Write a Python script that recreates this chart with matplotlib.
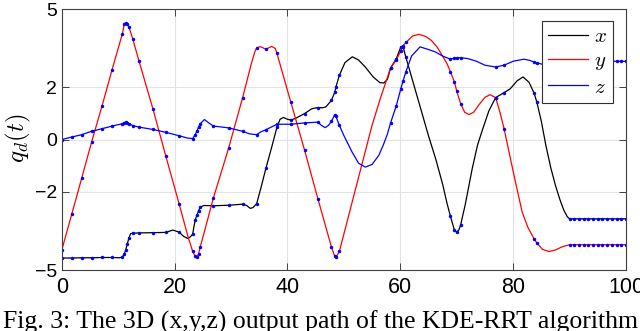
import numpy as np
import matplotlib
matplotlib.use('Agg')
import matplotlib.pyplot as plt

# waypoints (blue markers), shared times
t_way = [0, 1.77, 3.55, 5.3, 7.15, 8.93, 10.76, 11.1, 11.35, 11.6, 11.9, 12.6, 13.7,
         16.15, 18.45, 20.8, 23.2, 23.65, 23.95, 24.25, 24.55, 26.9, 29.6, 32.05,
         34.55, 36.2, 38.15, 40.6, 43.05, 45.4, 47.8, 48.4, 48.6, 49.2, 58.3, 59.3,
         60.1, 60.5, 61.0, 68.9, 69.6, 70.0, 70.7, 76.9, 78.4, 83.7, 84.2,
         90.0, 90.83, 91.67, 92.5, 93.33, 94.17, 95.0, 95.83, 96.67, 97.5, 98.33, 99.17, 100.0]
x_way = [-4.53, -4.53, -4.52, -4.52, -4.51, -4.51, -4.49, -4.37, -4.22, -4.0, -3.78, -3.58, -3.57,
         -3.56, -3.55, -3.54, -3.62, -3.08, -2.9, -2.72, -2.58, -2.53, -2.51, -2.47,
         -2.45, -1.09, 0.48, 0.75, 1.0, 1.23, 1.5, 1.82, 2.02, 2.46, 2.75, 3.1,
         3.55, 3.55, 3.15, -2.94, -3.47, -3.54, -3.26, 1.61, 1.8, 1.79, 1.44] + [-3.03] * 13
y_way = [-4.24, -2.86, -1.47, -0.09, 1.29, 2.68, 4.06, 4.44, 4.47, 4.42, 4.32, 3.85, 3.01,
         1.19, -0.63, -2.45, -4.27, -4.46, -4.5, -4.37, -4.11, -2.22, -0.31, 1.6,
         3.51, 3.46, 3.3, 1.44, -0.41, -2.26, -4.11, -4.47, -4.51, -4.28, 2.75, 3.05,
         3.4, 3.6, 3.72, 2.59, 2.21, 1.86, 1.38, 1.61, 0.42, -3.79, -3.95] + [-4.02] * 13
z_way = [0.0, 0.1, 0.19, 0.32, 0.42, 0.52, 0.61, 0.65, 0.67, 0.64, 0.61, 0.54, 0.48,
         0.39, 0.28, 0.15, 0.04, 0.19, 0.32, 0.48, 0.61, 0.52, 0.45, 0.32,
         0.19, 0.38, 0.59, 0.59, 0.64, 0.67, 0.7, 0.96, 0.89, 0.55, 0.65, 1.3,
         1.95, 2.25, 2.6, 3.08, 3.12, 3.13, 3.14, 2.78, 2.85, 2.97, 2.94] + [3.0] * 13

# traced curves
x_t = [0, 1.77, 3.55, 5.3, 7.15, 8.93, 10.3, 10.76, 11.1, 11.35, 11.6, 11.9, 12.2, 12.6, 13.7,
       16.15, 18.45, 19.7, 20.8, 21.6, 22.3, 22.8, 23.2, 23.65, 23.95, 24.25, 24.55, 25.2,
       26.9, 29.6, 32.05, 32.8, 33.4, 33.9, 34.55, 35.3, 36.2, 37.3, 38.15, 38.7, 39.3,
       40.0, 40.6, 41.5, 43.05, 44.3, 45.4, 46.2, 46.8, 47.8, 48.4, 48.6, 49.2, 50.2,
       51.5, 52.6, 53.8, 55.2, 56.4, 57.1, 57.7, 58.3, 59.3, 60.1, 60.5, 61.0, 62.0,
       63.0, 64.0, 65.0, 66.3, 67.5, 68.3, 68.9, 69.6, 70.0, 70.4, 70.7, 71.5, 72.75,
       73.7, 74.6, 75.7, 76.9, 78.4, 79.5, 80.7, 81.75, 82.8, 83.7, 84.2, 85.0, 85.8,
       86.7, 87.5, 88.3, 89.0, 89.6, 90.0, 100.0]
x_v = [-4.53, -4.53, -4.52, -4.52, -4.51, -4.51, -4.52, -4.49, -4.37, -4.22, -4.0, -3.78, -3.6, -3.58, -3.57,
       -3.56, -3.55, -3.46, -3.54, -3.7, -3.78, -3.72, -3.62, -3.08, -2.9, -2.72, -2.58, -2.52,
       -2.53, -2.51, -2.47, -2.52, -2.63, -2.6, -2.45, -1.85, -1.09, -0.22, 0.48, 0.78, 0.85,
       0.78, 0.75, 0.82, 1.0, 1.18, 1.23, 1.22, 1.25, 1.5, 1.82, 2.02, 2.46, 2.95,
       3.17, 3.05, 2.78, 2.4, 2.18, 2.17, 2.3, 2.75, 3.1, 3.55, 3.55, 3.15, 2.4,
       1.65, 0.9, 0.15, -0.75, -1.7, -2.45, -2.94, -3.47, -3.54, -3.45, -3.26, -2.5, -1.11,
       -0.2, 0.4, 1.1, 1.61, 1.8, 1.95, 2.25, 2.4, 2.2, 1.79, 1.44, 0.7, -0.22,
       -1.1, -1.75, -2.3, -2.71, -2.95, -3.03, -3.03]

y_t = [0, 1.77, 3.55, 5.3, 7.15, 8.93, 10.76, 11.1, 11.35, 11.6, 11.9, 12.6, 13.7, 16.15,
       18.45, 20.8, 22.3, 23.2, 23.65, 23.95, 24.25, 24.55, 26.9, 29.6, 32.05, 33.6, 34.2,
       34.55, 35.2, 36.2, 37.2, 37.85, 38.15, 39.0, 40.6, 43.05, 45.4, 47.8, 48.4, 48.6,
       49.2, 50.5, 52.0, 53.5, 55.0, 56.5, 58.3, 59.3, 60.1, 60.5, 61.0, 62.2, 63.3, 64.5,
       65.5, 66.5, 67.5, 68.3, 68.9, 69.6, 70.0, 70.7, 71.4, 72.2, 73.0, 74.0, 75.0, 75.9,
       76.9, 77.6, 78.4, 79.2, 79.9, 80.8, 81.6, 82.6, 83.7, 84.2, 85.2, 86.35, 87.5, 88.7,
       90.0, 100.0]
y_v = [-4.24, -2.86, -1.47, -0.09, 1.29, 2.68, 4.06, 4.44, 4.47, 4.42, 4.32, 3.85, 3.01, 1.19,
       -0.63, -2.45, -3.65, -4.27, -4.46, -4.5, -4.37, -4.11, -2.22, -0.31, 1.6, 2.9, 3.35,
       3.51, 3.56, 3.46, 3.57, 3.49, 3.3, 2.65, 1.44, -0.41, -2.26, -4.11, -4.47, -4.51,
       -4.28, -3.2, -1.95, -0.7, 0.55, 1.6, 2.75, 3.05, 3.4, 3.6, 3.72, 3.97, 4.03, 3.95,
       3.8, 3.55, 3.2, 2.9, 2.59, 2.21, 1.86, 1.38, 1.05, 0.96, 1.05, 1.35, 1.62, 1.72,
       1.61, 1.1, 0.42, -0.4, -1.11, -2.0, -2.77, -3.35, -3.79, -3.95, -4.2, -4.28, -4.22, -4.1,
       -4.02, -4.02]

z_t = [0, 1.77, 3.55, 5.3, 7.15, 8.93, 10.76, 11.1, 11.35, 11.6, 11.9, 12.6, 13.7, 16.15,
       18.45, 20.8, 22.3, 23.2, 23.65, 23.95, 24.25, 24.55, 25.3, 26.0, 26.9, 29.6, 32.05,
       33.3, 34.55, 35.3, 36.2, 38.15, 40.6, 43.05, 45.4, 46.0, 46.7, 47.3, 47.8, 48.4,
       48.6, 49.2, 50.0, 51.45, 52.6, 53.8, 55.0, 56.2, 57.0, 57.7, 58.3, 59.3, 60.1, 60.5,
       61.0, 62.0, 63.5, 65.0, 66.2, 67.5, 68.9, 69.6, 70.0, 70.7, 72.0, 73.5, 75.0, 76.9,
       78.4, 80.0, 81.9, 83.0, 83.7, 84.2, 85.8, 87.5, 90.0, 100.0]
z_v = [0.0, 0.1, 0.19, 0.32, 0.42, 0.52, 0.61, 0.65, 0.67, 0.64, 0.61, 0.54, 0.48, 0.39,
       0.28, 0.15, 0.06, 0.04, 0.19, 0.32, 0.48, 0.61, 0.77, 0.65, 0.52, 0.45, 0.32,
       0.22, 0.19, 0.3, 0.38, 0.59, 0.59, 0.64, 0.67, 0.55, 0.46, 0.55, 0.7, 0.96,
       0.89, 0.55, 0.16, -0.47, -0.9, -1.05, -0.95, -0.6, -0.2, 0.2, 0.65, 1.3, 1.95, 2.25,
       2.6, 3.2, 3.55, 3.45, 3.36, 3.2, 3.08, 3.12, 3.13, 3.14, 3.1, 3.0, 2.85, 2.78,
       2.85, 3.0, 3.08, 3.03, 2.97, 2.94, 2.85, 2.9, 3.0, 3.0]

x_ticks = [0, 20, 40, 60, 80, 100]
y_ticks = [-5, -2, 0, 2, 5]
caption = 'Fig. 3: The 3D (x,y,z) output path of the KDE-RRT algorithm'

plt.rcParams['font.family'] = ['Liberation Sans', 'DejaVu Sans']
plt.rcParams['mathtext.fontset'] = 'cm'

fig = plt.figure(figsize=(6.4, 3.31), dpi=100)
ax = fig.add_axes([0.0964, 0.1834, 0.8817, 0.7894])

ax.plot(x_t, x_v, color='k', lw=0.9, label='$x$')
ax.plot(y_t, y_v, color='r', lw=0.9, label='$y$')
ax.plot(z_t, z_v, color='b', lw=0.9, label='$z$')
for vals in (x_way, y_way, z_way):
    ax.plot(t_way, vals, 'o', color='b', ms=2.5, mec='none')

ax.set_xlim(0, 100)
ax.set_ylim(-5, 5)
ax.set_xticks(x_ticks)
ax.set_yticks(y_ticks)
ax.tick_params(direction='in', length=5, width=0.7, top=True, right=True,
               labelsize=14, color='#404040')
ax.tick_params(axis='x', pad=5, labelsize=15.5)
ax.grid(True, color='#e3e3e3', lw=0.8)
ax.set_axisbelow(True)
for s in ax.spines.values():
    s.set_color('#404040')
    s.set_linewidth(0.8)

# y label placed at its centre in figure pixels
fig.text(18 / 640, 1 - 138.5 / 331, '$q_d(t)$', fontsize=18, rotation=90,
         ha='center', va='center')

leg = ax.legend(loc='upper right', bbox_to_anchor=(0.977, 0.954), borderaxespad=0,
                fontsize=15, handlelength=1.9, handletextpad=0.3, labelspacing=0.25,
                fancybox=False, framealpha=1, edgecolor='#303030', borderpad=0.3)
leg.get_frame().set_linewidth(0.8)

fig.text(0.004, 0.007, caption, family='Liberation Serif', fontsize=18.5, va='baseline')

fig.savefig('out.png', dpi=100)
